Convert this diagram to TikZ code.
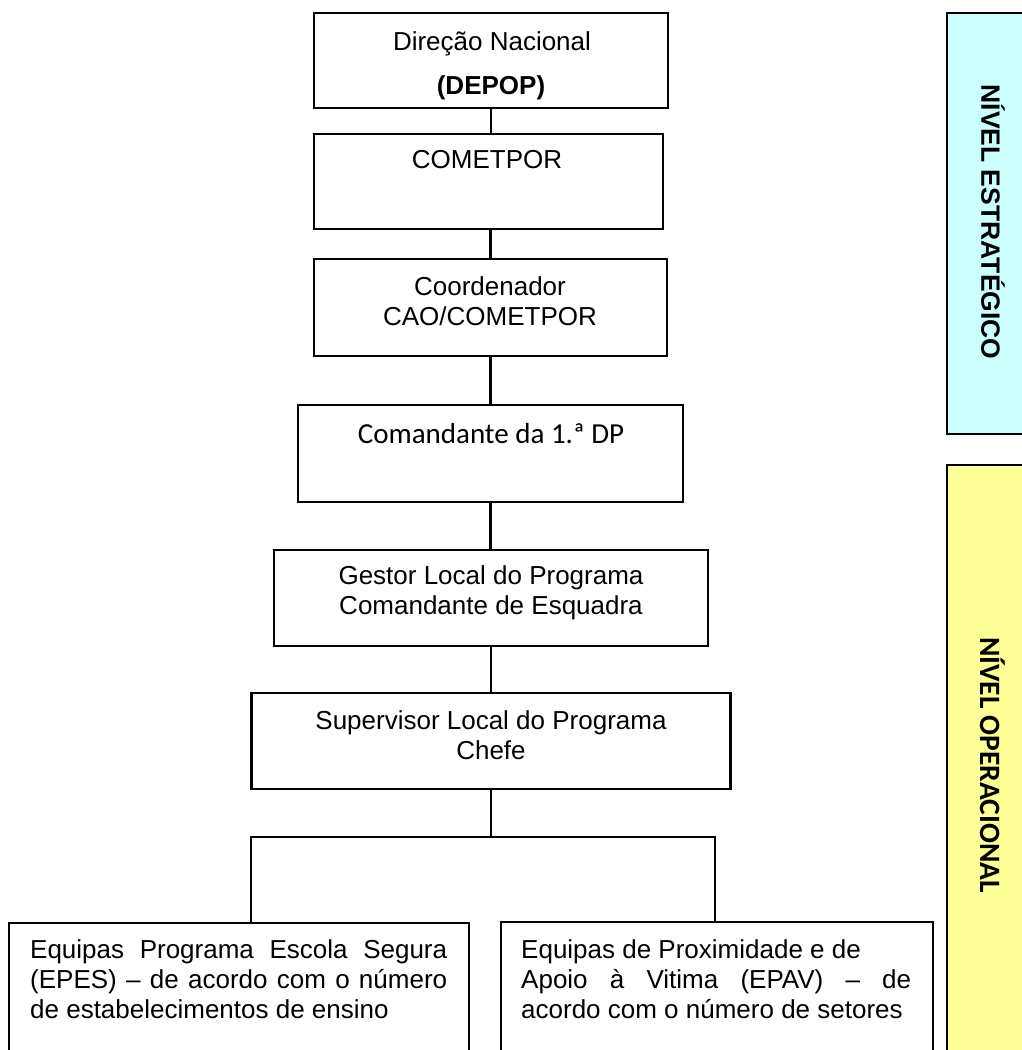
\documentclass[tikz,border=0pt]{standalone}
\usepackage{fontspec}
\setmainfont{Liberation Sans}[BoldFont={Liberation Sans Bold}]
\newfontfamily\calibri{Carlito}[BoldFont={Carlito Bold}]
\newfontfamily\arialbold{Liberation Sans Bold}
\definecolor{stratfill}{HTML}{CCFFFF}
\definecolor{operfill}{HTML}{FFFF99}
\newcommand{\ctrlines}[1]{\vtop{\baselineskip=30pt\lineskiplimit=-10pt\halign{\hfil##\hfil\cr#1\crcr}}}
\newcommand{\leftlines}[1]{\vtop{\baselineskip=30pt\lineskiplimit=-10pt\halign{##\hfil\cr#1\crcr}}}
\tikzset{
  box/.style={draw, line width=2.2pt, rectangle, inner sep=0pt},
  conn/.style={line width=2.2pt},
  txt/.style={inner sep=0pt, anchor=base, font=\fontsize{26}{30}\selectfont},
  panel/.style={draw, line width=2.6pt, rectangle, inner sep=0pt, minimum width=90pt},
  paneltxt/.style={inner sep=0pt, rotate=-90, anchor=center}
}
\begin{document}
\begin{tikzpicture}[x=1pt,y=-1pt]
\useasboundingbox (0,0) rectangle (1022,1050);
% side panels
\node[panel, fill=stratfill, minimum height=421pt] (ps) at (992,223.5) {};
\node[panel, fill=operfill, minimum height=600pt] (po) at (992,765) {};
\node[paneltxt, font=\fontsize{26.5}{30}\arialbold] (pst) at (993,222) {NÍVEL ESTRATÉGICO};
\node[paneltxt, font=\fontsize{29.5}{30}\calibri\bfseries] (pot) at (993,765) {NÍVEL OPERACIONAL};
% boxes
\node[box, minimum width=354pt, minimum height=95pt] (b1) at (491,60.5) {};
\node[box, minimum width=349pt, minimum height=95pt] (b2) at (488.5,181.5) {};
\node[box, minimum width=353pt, minimum height=97pt] (b3) at (490.5,307.5) {};
\node[box, minimum width=385pt, minimum height=97pt] (b4) at (490.5,453.5) {};
\node[box, minimum width=434pt, minimum height=96pt] (b5) at (491,598) {};
\node[box, minimum width=479pt, minimum height=96pt] (b6) at (491,741) {};
\node[box, minimum width=460pt, minimum height=150pt] (b7) at (239,998) {};
\node[box, minimum width=432pt, minimum height=150pt] (b8) at (717,997) {};
% texts
\node[txt] (t1a) at (492,50) {Direção Nacional};
\node[txt, font=\fontsize{26}{30}\arialbold] (t1b) at (491,94) {(DEPOP)};
\node[txt] (t2) at (487,168) {COMETPOR};
\node[txt] (t3) at (490,295) {\ctrlines{Coordenador\cr CAO/COMETPOR}};
\node[txt, font=\fontsize{29}{30}\calibri] (t4) at (491,443) {Comandante da 1.ª DP};
\node[txt] (t5) at (491,584) {\ctrlines{Gestor Local do Programa\cr Comandante de Esquadra}};
\node[txt] (t6) at (491,729) {\ctrlines{Supervisor Local do Programa\cr Chefe}};
\node[txt, anchor=base west] (t7) at (30,958) {\leftlines{\makebox[417pt][s]{Equipas Programa Escola Segura}\cr
  \makebox[417pt][s]{(EPES) – de acordo com o número}\cr
  de estabelecimentos de ensino}};
\node[txt, anchor=base west] (t8) at (521,958) {\leftlines{Equipas de Proximidade e de\cr
  \makebox[390pt][s]{Apoio à Vitima (EPAV) – de}\cr
  acordo com o número de setores}};
% connectors
\draw[conn] (b1.south) -- (b1.south |- b2.north);
\draw[conn] (b3.north |- b2.south) -- (b3.north);
\draw[conn] (b3.south) -- (b3.south |- b4.north);
\draw[conn] (b4.south) -- (b4.south |- b5.north);
\draw[conn] (b5.south) -- (b5.south |- b6.north);
\coordinate (split) at (491,837);
\coordinate (jl) at (251,837);
\coordinate (jr) at (715,837);
\draw[conn] (b6.south) -- (split);
\draw[conn] (b7.north -| jl) -- (jl) -- (jr) -- (b8.north -| jr);
\end{tikzpicture}
\end{document}
